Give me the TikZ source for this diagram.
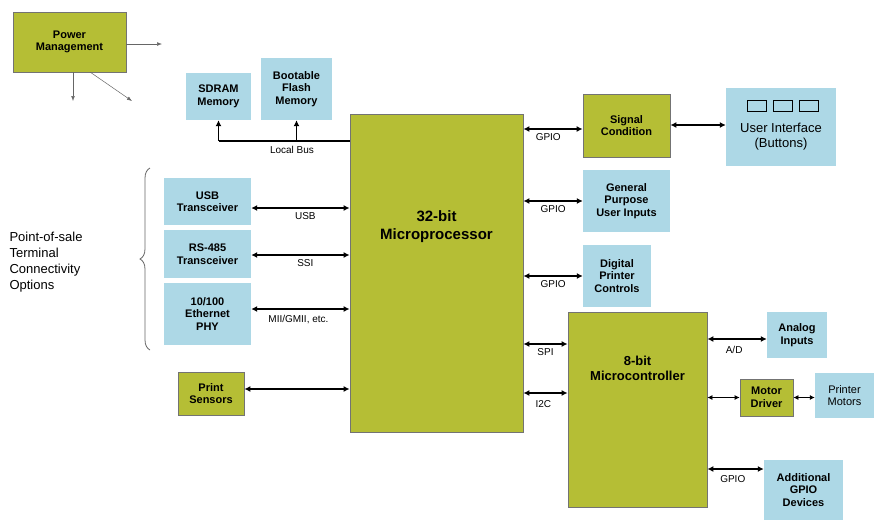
\documentclass[tikz,border=0pt]{standalone}
\usepackage{fontspec}
\setmainfont{Liberation Sans}
\usetikzlibrary{arrows.meta,positioning,decorations.pathreplacing}
\definecolor{chipgreen}{RGB}{181,190,53}
\definecolor{periblue}{RGB}{173,216,230}
\tikzset{
	green box/.style={draw=black!55,fill=chipgreen,line width=0.8pt,align=center,font=\fontsize{11}{12.5}\selectfont\bfseries,inner sep=2pt},
	blue box/.style={fill=periblue,align=center,font=\fontsize{11}{12.5}\selectfont\bfseries,inner sep=2pt},
	bus/.style={<->,line width=1.8pt,>={Latex[length=6pt,width=6pt]}},
	thin bus/.style={<->,line width=0.8pt,>={Latex[length=5pt,width=5pt]}},
	sig/.style={font=\fontsize{10}{11}\selectfont},
}
\begin{document}
\begin{tikzpicture}[x=1pt,y=-1pt]
\useasboundingbox (0,0) rectangle (887,531);
% main chips
\node[green box,minimum width=113,minimum height=60] (pm) at (69.5,42) {Power\\Management};
\node[green box,minimum width=173,minimum height=318,font=\fontsize{15}{18}\selectfont\bfseries] (mpu) at (436.5,273) {};
\node[font=\fontsize{15}{18}\selectfont\bfseries,align=center] at (436.5,227) {32-bit\\Microprocessor};
\node[green box,minimum width=139,minimum height=195] (mcu) at (637.5,409.5) {};
\node[font=\fontsize{13}{15}\selectfont\bfseries,align=center] at (637.5,368) {8-bit\\Microcontroller};
\node[green box,minimum width=87,minimum height=63] (sc) at (626.5,125.5) {Signal\\Condition};
\node[green box,minimum width=66,minimum height=43] (ps) at (211,393.5) {Print\\Sensors};
\node[green box,minimum width=53,minimum height=37] (md) at (766.5,397.5) {Motor\\Driver};
% peripherals
\node[blue box,minimum width=65,minimum height=47] (sdram) at (218.5,96.5) {SDRAM\\Memory};
\node[blue box,minimum width=71,minimum height=62] (flash) at (296.5,89) {Bootable\\Flash\\Memory};
\node[blue box,minimum width=110,minimum height=78,font=\fontsize{13}{15}\selectfont] (ui) at (781,127) {};
\node[font=\fontsize{13}{15}\selectfont,align=center] at (781,137) {User Interface\\(Buttons)};
\foreach \i in {0,1,2}
	\draw[line width=0.8pt] (747+\i*26,100) rectangle +(19,11);
\node[blue box,minimum width=87,minimum height=47] (usb) at (207.5,201.5) {USB\\Transceiver};
\node[blue box,minimum width=87,minimum height=48] (rs) at (207.5,254) {RS-485\\Transceiver};
\node[blue box,minimum width=87,minimum height=62] (eth) at (207.5,314) {10/100\\Ethernet\\PHY};
\node[blue box,minimum width=87,minimum height=62] (gpi) at (626.5,201) {General\\Purpose\\User Inputs};
\node[blue box,minimum width=68,minimum height=62] (dpc) at (617,276) {Digital\\Printer\\Controls};
\node[blue box,minimum width=60,minimum height=46] (ain) at (797,335) {Analog\\Inputs};
\node[blue box,minimum width=59,minimum height=45,font=\fontsize{11}{12.5}\selectfont] (pmot) at (844.5,395.5) {Printer\\Motors};
\node[blue box,minimum width=79,minimum height=60] (agp) at (803.5,490) {Additional\\GPIO\\Devices};
% power outputs
\coordinate (p1) at (162,44);
\coordinate (p2) at (73,101);
\coordinate (p3) at (132,101);
\draw[-{Latex[length=5pt]},black!60,line width=0.5pt] (pm.east |- p1) -- (p1);
\draw[-{Latex[length=5pt]},black!60,line width=0.5pt] (pm.south -| p2) -- (p2);
\draw[-{Latex[length=5pt]},black!60,line width=0.5pt] (90,72) -- (p3);
% local bus
\draw[line width=1.8pt] (mpu.west |- 0,141) -- (sdram.south |- 0,141);
\draw[->,line width=1.8pt,>={Latex[length=6pt,width=6pt]}] (sdram.south |- 0,141) -- (sdram.south);
\draw[->,line width=1.8pt,>={Latex[length=6pt,width=6pt]}] (flash.south |- 0,141) -- (flash.south);
\node[sig] at (292,150) {Local Bus};
% microprocessor links
\draw[bus] (mpu.east |- 0,129) -- (sc.west |- 0,129) node[sig,pos=0.42,below] {GPIO};
\draw[bus] (sc.east |- 0,125) -- (ui.west |- 0,125);
\draw[bus] (mpu.east |- gpi) -- (gpi.west) node[sig,pos=0.5,below] {GPIO};
\draw[bus] (mpu.east |- dpc) -- (dpc.west) node[sig,pos=0.5,below] {GPIO};
\draw[bus] (usb.east |- 0,208) -- (mpu.west |- 0,208) node[sig,pos=0.55,below] {USB};
\draw[bus] (rs.east |- 0,255) -- (mpu.west |- 0,255) node[sig,pos=0.55,below] {SSI};
\draw[bus] (eth.east |- 0,309) -- (mpu.west |- 0,309) node[sig,pos=0.48,below=2pt] {MII/GMII, etc.};
\draw[bus] (ps.east |- 0,389) -- (mpu.west |- 0,389);
\draw[bus] (mpu.east |- 0,344) -- (mcu.west |- 0,344) node[sig,pos=0.5,below] {SPI};
\draw[bus] (mpu.east |- 0,393) -- (mcu.west |- 0,393) node[sig,pos=0.45,below=3pt] {I2C};
% microcontroller links
\draw[bus] (mcu.east |- 0,339) -- (ain.west |- 0,339) node[sig,pos=0.45,below=3pt] {A/D};
\draw[thin bus] (mcu.east |- md) -- (md.west);
\draw[thin bus] (md.east) -- (pmot.west |- md);
\draw[bus] (mcu.east |- 0,469) -- (agp.west |- 0,469) node[sig,pos=0.45,below=2pt] {GPIO};
% connectivity brace
\draw[black!60,line width=0.8pt,decorate,decoration={brace,amplitude=10pt}] (150,350) -- (150,168);
\node[font=\fontsize{13}{16}\selectfont,align=left,anchor=west] at (6,262) {Point-of-sale\\Terminal\\Connectivity\\Options};
\end{tikzpicture}
\end{document}
